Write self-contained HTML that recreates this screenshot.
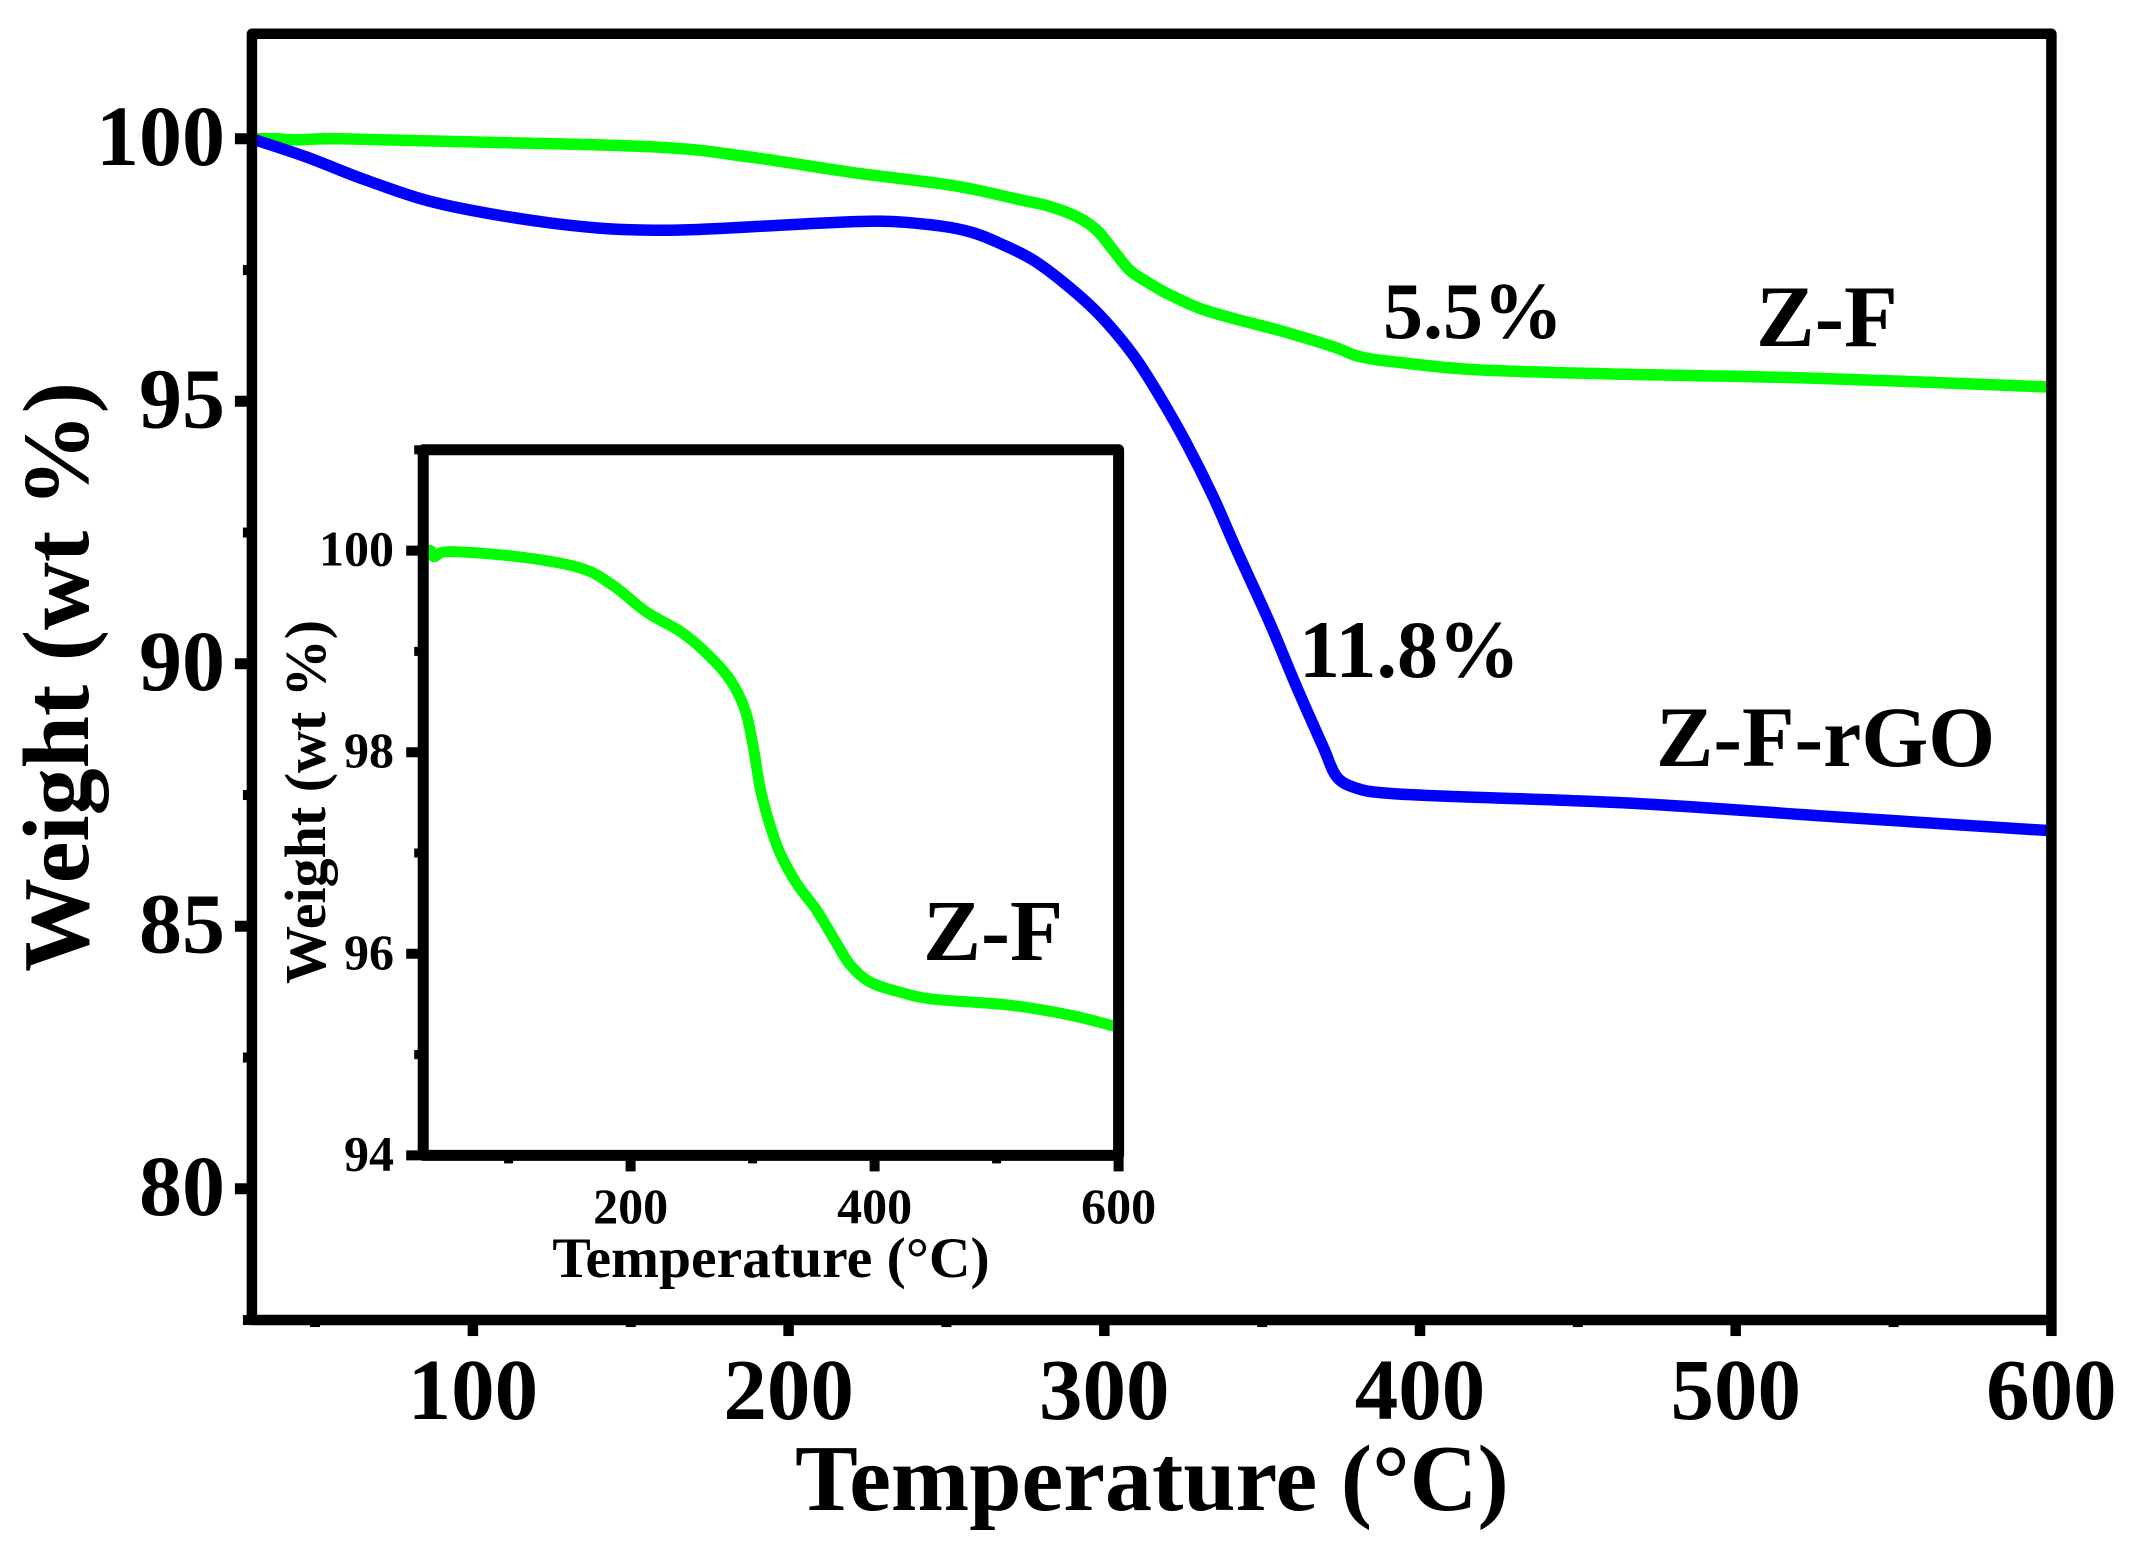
<!DOCTYPE html>
<html lang="en">
<head>
<meta charset="utf-8">
<title>TGA weight loss of Z-F and Z-F-rGO</title>
<style>
  html, body { margin: 0; padding: 0; background: #fff; }
  svg { display: block; }
  text { font-family: "Liberation Serif", serif; font-weight: bold; fill: #000; }
</style>
</head>
<body>
<svg id="chart" xmlns="http://www.w3.org/2000/svg" width="2136" height="1560" viewBox="0 0 2136 1560">
  <rect x="0" y="0" width="2136" height="1560" fill="#fff"/>
  <g id="main-lines"></g>
  <g id="main-axes"></g>
  <text x="1152" y="1510" font-size="94" text-anchor="middle">Temperature (°C)</text>
  <text transform="translate(88 677) rotate(-90)" font-size="94" text-anchor="middle">Weight (wt %)</text>
  <text x="1383" y="338" font-size="80">5.5%</text>
  <text x="1756" y="346" font-size="88">Z-F</text>
  <text x="1299" y="677" font-size="82">11.8%</text>
  <text x="1656" y="766" font-size="86">Z-F-rGO</text>

  <g id="inset-lines"></g>
  <g id="inset-axes"></g>
  <text x="771" y="1277" font-size="57.6" text-anchor="middle">Temperature (°C)</text>
  <text transform="translate(325 802) rotate(-90)" font-size="58" text-anchor="middle">Weight (wt %)</text>
  <text x="923" y="960" font-size="87">Z-F</text>
</svg>
<script>
// Main plot data
const mainTemp_ZF = [30, 37, 45, 58, 101, 159, 187, 220, 252, 273.3, 282.8, 291.2, 297.6, 302.8, 308, 313.4, 319.7, 330.3, 340.8, 356.7, 372.5, 381, 393.6, 418, 461, 525, 600];
const mainWeight_ZF = [100, 100, 99.98, 100, 99.94, 99.84, 99.66, 99.36, 99.11, 98.84, 98.71, 98.52, 98.26, 97.88, 97.5, 97.28, 97.06, 96.77, 96.58, 96.33, 96.04, 95.85, 95.74, 95.60, 95.52, 95.44, 95.27];
const mainTemp_rGO = [30, 47, 64.5, 84, 101, 123, 140, 155, 170, 187, 209, 230, 248, 258, 266.9, 277.5, 288, 298.6, 309.2, 317.6, 326, 334.5, 341.9, 352.5, 360.9, 369.3, 373.6, 379.9, 388.3, 407.4, 468, 533, 600];
const mainWeight_rGO = [100, 99.66, 99.25, 98.85, 98.62, 98.41, 98.30, 98.26, 98.27, 98.32, 98.39, 98.43, 98.34, 98.22, 98.01, 97.69, 97.22, 96.64, 95.88, 95.09, 94.2, 93.18, 92.17, 90.77, 89.56, 88.42, 87.85, 87.63, 87.54, 87.48, 87.34, 87.08, 86.82];
const mainXMajor = [100, 200, 300, 400, 500, 600];
const mainXMinor = [50, 150, 250, 350, 450, 550];
const mainYMajor = [80, 85, 90, 95, 100];
const mainYMinor = [77.5, 82.5, 87.5, 92.5, 97.5];

// Inset plot data
const insetTemp = [30, 36, 39, 52, 107, 158, 185, 213, 240.5, 262.4, 281.5, 293.8, 300.6, 306, 312.9, 322.5, 336, 352.6, 369, 380, 396.2, 420.8, 448, 511, 561, 600];
const insetWeight = [100, 100, 99.94, 99.99, 99.94, 99.83, 99.66, 99.39, 99.20, 98.98, 98.72, 98.42, 98.05, 97.66, 97.33, 97.0, 96.70, 96.43, 96.10, 95.89, 95.72, 95.62, 95.55, 95.49, 95.39, 95.27];
const insetXMajor = [200, 400, 600];
const insetXMinor = [100, 300, 500];
const insetYMajor = [94, 96, 98, 100];
const insetYMinor = [95, 97, 99, 101];

const NS = 'http://www.w3.org/2000/svg';
function mainX(v) { return 2051.4 + (v - 600) * 3.157; }
function mainY(v) { return 138.8 + (100 - v) * 52.5; }
function insetX(v) { return 1118.6 + (v - 600) * 1.22; }
function insetY(v) { return 550.6 + (100 - v) * 100.8; }

function smoothPath(xs, ys, fx, fy) {
  const p = xs.map((x, i) => [fx(x), fy(ys[i])]);
  let d = 'M' + p[0][0].toFixed(1) + ' ' + p[0][1].toFixed(1);
  for (let i = 0; i < p.length - 1; i++) {
    const a = p[Math.max(i - 1, 0)], b = p[i], c = p[i + 1], e = p[Math.min(i + 2, p.length - 1)];
    const c1x = b[0] + (c[0] - a[0]) / 6, c1y = b[1] + (c[1] - a[1]) / 6;
    const c2x = c[0] - (e[0] - b[0]) / 6, c2y = c[1] - (e[1] - b[1]) / 6;
    d += 'C' + c1x.toFixed(1) + ' ' + c1y.toFixed(1) + ' ' + c2x.toFixed(1) + ' ' + c2y.toFixed(1) + ' ' + c[0].toFixed(1) + ' ' + c[1].toFixed(1);
  }
  return d;
}
function tickLine(parent, x1, y1, x2, y2, w) {
  const el = document.createElementNS(NS, 'line');
  el.setAttribute('x1', x1);
  el.setAttribute('y1', y1);
  el.setAttribute('x2', x2);
  el.setAttribute('y2', y2);
  el.setAttribute('stroke', '#000');
  el.setAttribute('stroke-width', w);
  
  
  parent.appendChild(el);
}
function tickText(parent, x, y, size, anchor, label) {
  const el = document.createElementNS(NS, 'text');
  el.setAttribute('x', x);
  el.setAttribute('y', y);
  el.setAttribute('font-size', size);
  el.setAttribute('text-anchor', anchor);
  el.textContent = label;
  
  
  parent.appendChild(el);
}
function seriesLine(parent, d, color, w) {
  const el = document.createElementNS(NS, 'path');
  el.setAttribute('d', d);
  el.setAttribute('fill', 'none');
  el.setAttribute('stroke', color);
  el.setAttribute('stroke-width', w);
  el.setAttribute('stroke-linejoin', 'round');
  
  
  parent.appendChild(el);
}
function frameRect(parent, x, y, w, h, sw) {
  const el = document.createElementNS(NS, 'rect');
  el.setAttribute('x', x);
  el.setAttribute('y', y);
  el.setAttribute('width', w);
  el.setAttribute('height', h);
  el.setAttribute('fill', 'none');
  el.setAttribute('stroke', '#000');
  el.setAttribute('stroke-width', sw);
  el.setAttribute('stroke-linejoin', 'round');
  
  
  parent.appendChild(el);
}

// Main plot
const mainLines = document.getElementById('main-lines');
const mainAxes = document.getElementById('main-axes');
seriesLine(mainLines, smoothPath(mainTemp_ZF, mainWeight_ZF, mainX, mainY), '#00ff00', 11.5);
seriesLine(mainLines, smoothPath(mainTemp_rGO, mainWeight_rGO, mainX, mainY), '#0000ff', 11.5);
const mainBottom = mainY(77.5), mainLeft = mainX(30);
frameRect(mainAxes, mainLeft, mainY(102), mainX(600) - mainLeft, mainBottom - mainY(102), 10.5);
mainXMajor.forEach(v => {
  tickLine(mainAxes, mainX(v), mainBottom, mainX(v), mainBottom + 16, 10.5);
  tickText(mainAxes, mainX(v), 1419, 87, 'middle', String(v));
});
mainXMinor.forEach(v => tickLine(mainAxes, mainX(v), mainBottom, mainX(v), mainBottom + 7, 10));
mainYMajor.forEach(v => {
  tickLine(mainAxes, mainLeft, mainY(v), mainLeft - 17, mainY(v), 11);
  tickText(mainAxes, 225, mainY(v) + 26, 86, 'end', String(v));
});
mainYMinor.forEach(v => tickLine(mainAxes, mainLeft, mainY(v), mainLeft - 9, mainY(v), 10));

// Inset plot
const insetLines = document.getElementById('inset-lines');
const insetAxes = document.getElementById('inset-axes');
seriesLine(insetLines, smoothPath(insetTemp, insetWeight, insetX, insetY), '#00ff00', 11);
const insetBottom = insetY(94), insetLeft = insetX(30);
frameRect(insetAxes, insetLeft, insetY(101), insetX(600) - insetLeft, insetBottom - insetY(101), 11);
insetXMajor.forEach(v => {
  tickLine(insetAxes, insetX(v), insetBottom, insetX(v), insetBottom + 16, 10);
  tickText(insetAxes, insetX(v), 1223, 50, 'middle', String(v));
});
insetXMinor.forEach(v => tickLine(insetAxes, insetX(v), insetBottom, insetX(v), insetBottom + 8, 9));
insetYMajor.forEach(v => {
  tickLine(insetAxes, insetLeft, insetY(v), insetLeft - 17, insetY(v), 10);
  tickText(insetAxes, 394, insetY(v) + 15, 50, 'end', String(v));
});
insetYMinor.forEach(v => tickLine(insetAxes, insetLeft, insetY(v), insetLeft - 9, insetY(v), 9));
</script>
</body>
</html>
